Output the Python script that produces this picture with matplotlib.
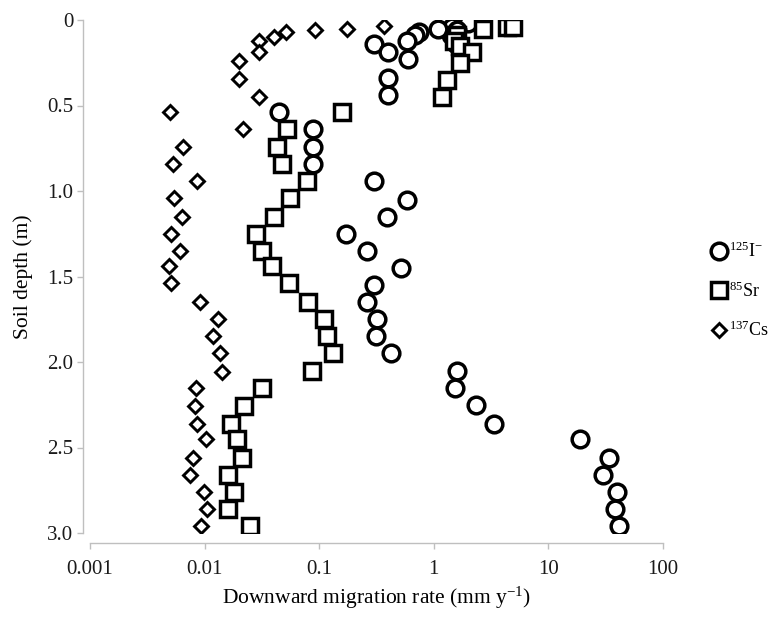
import numpy as np
import matplotlib
matplotlib.use("Agg")
import matplotlib.pyplot as plt

plt.rcParams['font.family'] = ['Liberation Serif', 'DejaVu Serif']
plt.rcParams['mathtext.fontset'] = 'custom'
plt.rcParams['mathtext.rm'] = 'Liberation Serif'
plt.rcParams['mathtext.it'] = 'Liberation Serif:italic'

# 125I- (circles): migration rate [mm/y] and soil depth [m]
iodine_rate = [1.99, 1.45, 1.60, 1.40, 1.55, 1.09, 0.74, 0.69, 0.58, 0.30, 0.40, 0.60,
               0.40, 0.40, 0.045, 0.088, 0.088, 0.088, 0.30, 0.58, 0.39, 0.17,
               0.26, 0.52, 0.30, 0.26, 0.32, 0.31, 0.42, 1.59, 1.53, 2.34, 3.35,
               18.9, 33.8, 29.9, 39.7, 38.1, 41.3]
iodine_depth = [0.02, 0.04, 0.06, 0.09, 0.14, 0.05, 0.07, 0.09, 0.12, 0.14, 0.19, 0.23,
                0.34, 0.44, 0.54, 0.64, 0.74, 0.84, 0.94, 1.05, 1.15, 1.25,
                1.35, 1.45, 1.55, 1.65, 1.75, 1.85, 1.95, 2.05, 2.15, 2.25, 2.36,
                2.45, 2.56, 2.66, 2.76, 2.86, 2.96]

# 85Sr (squares)
sr_rate = [4.35, 4.9, 2.69, 1.60, 1.50, 1.70, 2.15, 1.69, 1.30, 1.18,
           0.158, 0.052, 0.043, 0.047, 0.078, 0.056, 0.040, 0.028, 0.032, 0.039,
           0.055, 0.080, 0.110, 0.117, 0.132, 0.087, 0.032, 0.022, 0.017, 0.019,
           0.021, 0.016, 0.018, 0.016, 0.025]
sr_depth = [0.04, 0.04, 0.05, 0.09, 0.12, 0.15, 0.19, 0.25, 0.35, 0.45,
            0.54, 0.64, 0.74, 0.84, 0.94, 1.04, 1.15, 1.25, 1.35, 1.44,
            1.54, 1.65, 1.75, 1.85, 1.95, 2.05, 2.15, 2.26, 2.36, 2.45,
            2.56, 2.66, 2.76, 2.86, 2.96]

# 137Cs (diamonds)
cs_rate = [0.367, 0.175, 0.092, 0.051, 0.040, 0.030, 0.030, 0.020, 0.020, 0.030,
           0.0050, 0.0216, 0.0065, 0.0053, 0.0086, 0.0054, 0.0064, 0.0051, 0.0061, 0.0049,
           0.0051, 0.0091, 0.0131, 0.0118, 0.0136, 0.0142, 0.0084, 0.0082, 0.0086, 0.0103,
           0.0079, 0.0075, 0.0099, 0.0105, 0.0093]
cs_depth = [0.035, 0.053, 0.058, 0.070, 0.099, 0.123, 0.19, 0.24, 0.345, 0.45,
            0.54, 0.64, 0.74, 0.84, 0.94, 1.04, 1.15, 1.25, 1.35, 1.44,
            1.54, 1.65, 1.75, 1.85, 1.95, 2.06, 2.15, 2.26, 2.36, 2.45,
            2.56, 2.66, 2.76, 2.86, 2.96]

x_ticks = [0.001, 0.01, 0.1, 1, 10, 100]
x_tick_labels = ["0.001", "0.01", "0.1", "1", "10", "100"]
y_ticks = [0, 0.5, 1.0, 1.5, 2.0, 2.5, 3.0]
y_tick_labels = ["0", "0.5", "1.0", "1.5", "2.0", "2.5", "3.0"]

W, H = 772, 618
fig = plt.figure(figsize=(W / 100, H / 100), dpi=100)
ax = fig.add_axes([90 / W, (H - 533) / H, 573 / W, 513 / H])

mew = 2.5
ax.plot(iodine_rate, iodine_depth, linestyle="none", marker="o", markersize=12,
        markerfacecolor="white", markeredgecolor="black", markeredgewidth=mew,
        label="$^{125}$I$^{-}$")
ax.plot(sr_rate, sr_depth, linestyle="none", marker="s", markersize=11,
        markerfacecolor="white", markeredgecolor="black", markeredgewidth=mew,
        label="$^{85}$Sr")
ax.plot(cs_rate, cs_depth, linestyle="none", marker="D", markersize=7.6,
        markerfacecolor="white", markeredgecolor="black", markeredgewidth=2.1,
        label="$^{137}$Cs")

ax.set_xscale("log")
ax.set_xlim(0.001, 100)
ax.set_ylim(3.0, 0)
ax.set_xticks(x_ticks)
ax.set_xticklabels(x_tick_labels)
ax.xaxis.set_minor_locator(matplotlib.ticker.NullLocator())
ax.set_yticks(y_ticks)
ax.set_yticklabels(y_tick_labels)

for side in ["top", "right"]:
    ax.spines[side].set_visible(False)
ax.spines["left"].set_position(("outward", 5))
ax.spines["bottom"].set_position(("outward", 7))
for side in ["left", "bottom"]:
    ax.spines[side].set_color("#bfbfbf")
    ax.spines[side].set_linewidth(1.0)
ax.tick_params(axis="both", direction="out", length=4, width=1.0, color="#bfbfbf",
               labelsize=15, labelcolor="#1a1a1a")
ax.tick_params(axis="x", pad=8.5)
ax.tick_params(axis="y", pad=3)

ax.set_xlabel("Downward migration rate (mm y$^{-1}$)", fontsize=15.5, labelpad=4)
ax.set_ylabel("Soil depth (m)", fontsize=15.5, labelpad=10)

ax.legend(loc="upper left", bbox_to_anchor=(704 / W, 1 - 233 / H),
          bbox_transform=fig.transFigure, frameon=False, fontsize=13,
          handlelength=0.7, handletextpad=0.2, labelspacing=1.1, borderpad=0)

fig.savefig("out.png", dpi=100)
